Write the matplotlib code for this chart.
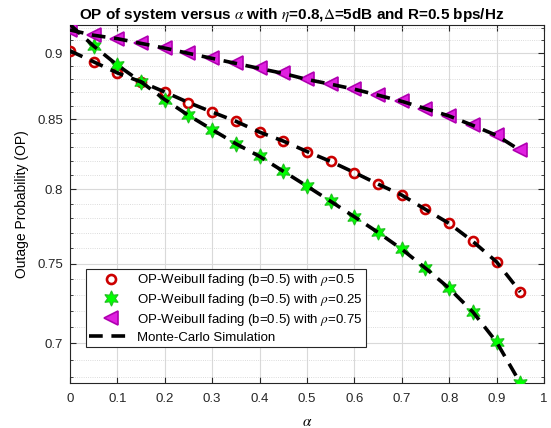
import matplotlib
matplotlib.use("Agg")
import matplotlib.pyplot as plt
from matplotlib.lines import Line2D
from matplotlib.ticker import FixedLocator, NullFormatter

# power splitting ratio alpha
alpha = [0.0, 0.05, 0.1, 0.15, 0.2, 0.25, 0.3, 0.35, 0.4, 0.45,
         0.5, 0.55, 0.6, 0.65, 0.7, 0.75, 0.8, 0.85, 0.9, 0.95]

# analytical OP, Weibull fading (b=0.5)
op_rho_05 = [0.9018, 0.8932, 0.8847, 0.8778, 0.8702, 0.8623, 0.8552, 0.8484, 0.8405, 0.8340,
             0.8265, 0.8194, 0.8116, 0.8035, 0.7959, 0.7861, 0.7766, 0.7646, 0.7512, 0.7319]
op_rho_025 = [0.9225, 0.9055, 0.8907, 0.8778, 0.8645, 0.8528, 0.8423, 0.8321, 0.8230, 0.8125,
              0.8021, 0.7916, 0.7811, 0.7706, 0.7595, 0.7471, 0.7342, 0.7193, 0.7008, 0.6764]
op_rho_075 = [0.9182, 0.9140, 0.9113, 0.9076, 0.9039, 0.8998, 0.8959, 0.8920, 0.8881, 0.8843,
              0.8797, 0.8761, 0.8723, 0.8678, 0.8632, 0.8578, 0.8523, 0.8454, 0.8381, 0.8273]

# Monte-Carlo results (same points as the analysis)
mc_rho_05 = op_rho_05
mc_rho_025 = op_rho_025
mc_rho_075 = op_rho_075

ytick_vals = [0.7, 0.75, 0.8, 0.85, 0.9]
ytick_labels = ["0.7", "0.75", "0.8", "0.85", "0.9"]
yminor_vals = [0.68, 0.69, 0.71, 0.72, 0.73, 0.74, 0.76, 0.77, 0.78, 0.79,
               0.81, 0.82, 0.83, 0.84, 0.86, 0.87, 0.88, 0.89, 0.91, 0.92]
xtick_vals = [0, 0.1, 0.2, 0.3, 0.4, 0.5, 0.6, 0.7, 0.8, 0.9, 1]
xtick_labels = ["0", "0.1", "0.2", "0.3", "0.4", "0.5", "0.6", "0.7", "0.8", "0.9", "1"]

plt.rcParams['font.family'] = ['Liberation Sans', 'DejaVu Sans']
plt.rcParams['mathtext.fontset'] = 'stix'

fig = plt.figure(figsize=(5.51, 4.28), dpi=100)
ax = fig.add_axes([0.127, 0.105, 0.8603, 0.8376])
ax.set_yscale('log')

red = '#cc0000'
green = '#00ff00'
mag_face = '#e020e0'
mag_edge = '#b000b0'

ax.plot(alpha, op_rho_05, linestyle='none', marker='o', ms=6.5, mew=1.9,
        mfc='none', mec=red, zorder=3)
ax.plot(alpha, op_rho_025, linestyle='none', marker=(6, 1, 0), ms=11, mew=0.8,
        mfc=green, mec='#20c020', zorder=3)
ax.plot(alpha, op_rho_075, linestyle='none', marker='<', ms=9.5, mew=1.2,
        mfc=mag_face, mec=mag_edge, zorder=3)

for sim in [mc_rho_05, mc_rho_025, mc_rho_075]:
    ax.plot(alpha, sim, color='black', lw=2.6, dashes=(3.8, 2.4), zorder=4)

ax.set_xlim(0, 1)
ax.set_ylim(min(op_rho_025), max(op_rho_025))

ax.yaxis.set_major_locator(FixedLocator(ytick_vals))
ax.set_yticklabels(ytick_labels)
ax.yaxis.set_minor_locator(FixedLocator(yminor_vals))
ax.yaxis.set_minor_formatter(NullFormatter())
ax.set_xticks(xtick_vals)
ax.set_xticklabels(xtick_labels)

ax.tick_params(which='both', direction='in', top=True, right=True,
               labelsize=9.5, colors='#262626')
ax.tick_params(which='major', length=4, width=0.8)
ax.tick_params(which='minor', length=2, width=0.6)
ax.tick_params(axis='x', which='major', pad=7)
ax.tick_params(axis='y', which='major', pad=5)
for sp in ax.spines.values():
    sp.set_color('#262626')
    sp.set_linewidth(0.8)

ax.grid(True, which='major', color='#d9d9d9', lw=0.8, ls='-')
ax.grid(True, which='minor', axis='y', color='#d0d0d0', lw=0.6, ls=':')
ax.set_axisbelow(True)

ax.set_title(r'OP of system versus $\alpha$ with $\eta$=0.8,$\Delta$=5dB and R=0.5 bps/Hz',
             fontsize=11, fontweight='bold', pad=4, x=0.468)
ax.set_xlabel(r'$\alpha$', fontsize=11, labelpad=7)
ax.set_ylabel('Outage Probability (OP)', fontsize=10, labelpad=6)

handles = [
    Line2D([], [], ls='none', marker='o', ms=6.5, mew=1.9, mfc='white', mec=red),
    Line2D([], [], ls='none', marker=(6, 1, 0), ms=11, mew=0.8, mfc=green, mec='#20c020'),
    Line2D([], [], ls='none', marker='<', ms=9.5, mew=1.2, mfc=mag_face, mec=mag_edge),
    Line2D([], [], color='black', lw=2.6, dashes=(3.8, 2.4)),
]
labels = [
    r'OP-Weibull fading (b=0.5) with $\rho$=0.5',
    r'OP-Weibull fading (b=0.5) with $\rho$=0.25',
    r'OP-Weibull fading (b=0.5) with $\rho$=0.75',
    'Monte-Carlo Simulation',
]
leg = ax.legend(handles, labels, loc='upper left', bbox_to_anchor=(0.034, 0.318),
                fontsize=9.5, frameon=True, fancybox=False, edgecolor='#262626',
                framealpha=1, borderaxespad=0, borderpad=0.25, handlelength=3.2,
                handletextpad=0.4, labelspacing=0.28)
leg.get_frame().set_linewidth(0.8)

fig.savefig('out.png', dpi=100)
